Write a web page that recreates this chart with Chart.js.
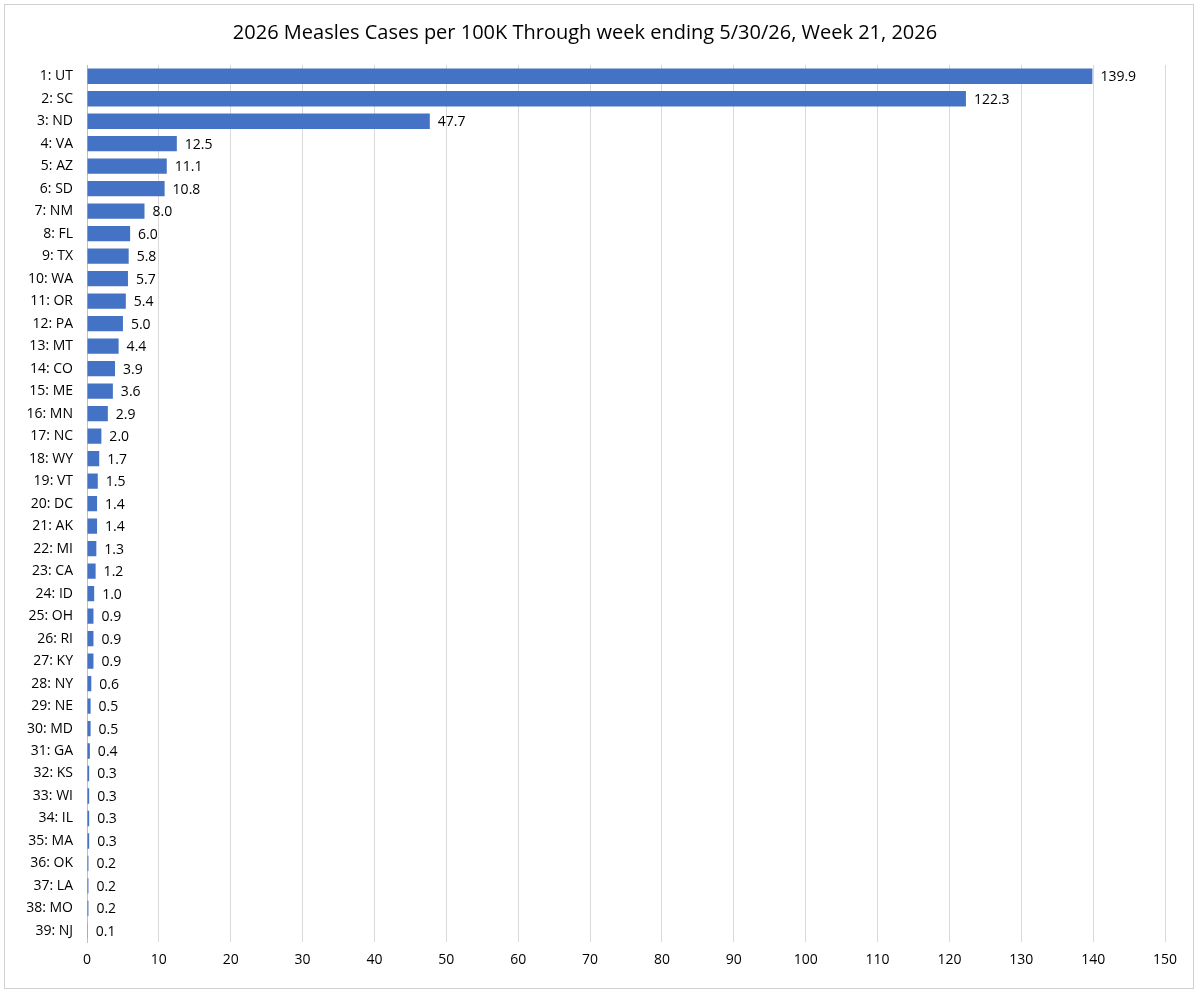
<!DOCTYPE html>
<html>
<head>
<meta charset="utf-8">
<script src="https://cdn.jsdelivr.net/npm/chart.js@4"></script>
<style>
  html, body { margin: 0; padding: 0; background: #fff; }
  #wrap { position: absolute; left: 4px; top: 4px; width: 1190px; height: 985px; border: 1px solid #d0d0d0; box-sizing: border-box; }
</style>
</head>
<body>
<div id="wrap"><canvas id="chart"></canvas></div>
<script>
// states ranked by cases per 100K
const states = ['1: UT','2: SC','3: ND','4: VA','5: AZ','6: SD','7: NM','8: FL','9: TX','10: WA',
  '11: OR','12: PA','13: MT','14: CO','15: ME','16: MN','17: NC','18: WY','19: VT','20: DC',
  '21: AK','22: MI','23: CA','24: ID','25: OH','26: RI','27: KY','28: NY','29: NE','30: MD',
  '31: GA','32: KS','33: WI','34: IL','35: MA','36: OK','37: LA','38: MO','39: NJ'];
const casesPer100k = [139.9,122.3,47.7,12.5,11.1,10.8,8.0,6.0,5.8,5.7,
  5.4,5.0,4.4,3.9,3.6,2.9,2.0,1.7,1.5,1.4,
  1.4,1.3,1.2,1.0,0.9,0.9,0.9,0.6,0.5,0.5,
  0.4,0.3,0.3,0.3,0.3,0.2,0.2,0.2,0.1];

const FONT = '"Open Sans", "Liberation Sans", sans-serif';

// draw the value next to each bar
const barLabels = {
  id: 'barLabels',
  afterDatasetsDraw(chart) {
    const ctx = chart.ctx;
    const meta = chart.getDatasetMeta(0);
    ctx.save();
    ctx.font = '14px ' + FONT;
    ctx.fillStyle = '#000';
    ctx.textBaseline = 'middle';
    meta.data.forEach((bar, i) => {
      ctx.fillText(casesPer100k[i].toFixed(1), bar.x + 8, bar.y + 1);
    });
    ctx.restore();
  }
};

new Chart(document.getElementById('chart').getContext('2d'), {
  type: 'bar',
  data: {
    labels: states,
    datasets: [{
      data: casesPer100k,
      backgroundColor: '#4472C4',
      categoryPercentage: 0.68,
      barPercentage: 1
    }]
  },
  options: {
    indexAxis: 'y',
    responsive: true,
    maintainAspectRatio: false,
    animation: false,
    layout: { padding: { left: 0, right: 28, top: 2, bottom: 11 } },
    plugins: {
      legend: { display: false },
      tooltip: { enabled: false },
      title: {
        display: true,
        text: '2026 Measles Cases per 100K Through week ending 5/30/26, Week 21, 2026',
        color: '#000',
        font: { family: FONT, size: 20, weight: 'normal' },
        padding: { top: 14, bottom: 20 }
      }
    },
    scales: {
      x: {
        min: 0, max: 150,
        ticks: { stepSize: 10, color: '#000', font: { family: FONT, size: 14 }, padding: 9 },
        grid: { color: '#d9d9d9', drawTicks: false },
        border: { display: false }
      },
      y: {
        ticks: { color: '#000', font: { family: FONT, size: 14 }, padding: 6, autoSkip: false },
        grid: { display: false },
        border: { color: '#bfbfbf' },
        afterFit(scale) { scale.width = 82; }
      }
    }
  },
  plugins: [barLabels]
});
</script>
</body>
</html>
